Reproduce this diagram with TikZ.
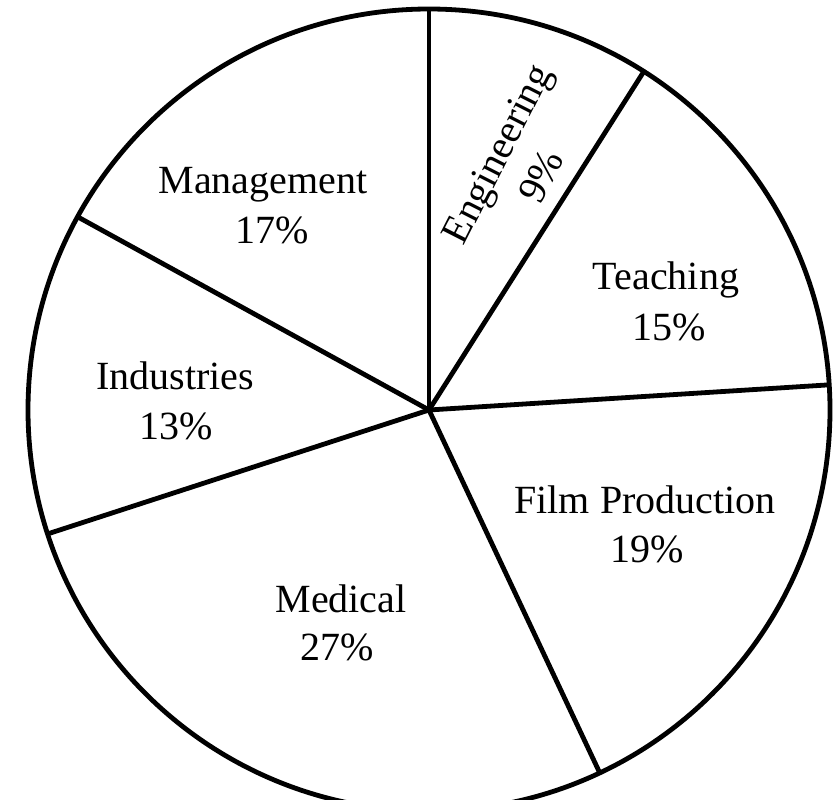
\documentclass[tikz,border=0pt]{standalone}
\usepackage{fontspec}
\setmainfont{Liberation Serif}
\begin{document}
\begin{tikzpicture}[x=1pt,y=-1pt,
  lbl/.style={font=\fontsize{40}{50}\selectfont, inner sep=0pt, anchor=base},
  rlbl/.style={font=\fontsize{40}{50}\selectfont, inner sep=0pt, anchor=center, rotate=63, align=center},
  spoke/.style={line width=4.8pt}]
\useasboundingbox (0,0) rectangle (833,800);
\fill[white] (0,0) rectangle (833,800);
\coordinate (c) at (429,410);
\draw[spoke] (c) circle[radius=401pt];
\foreach \a/\n in {90/p1,57.6/p2,3.6/p3,-64.8/p4,-162/p5,151.2/p6}
  \path (c) ++(\a:401pt) coordinate (\n);
\foreach \n in {p1,p2,p3,p4,p5,p6}
  \draw[spoke] (c) -- (\n);
% labels
\node[rlbl] (eng) at (519,165) {Engineering\\9\%};
\node[lbl] (teach) at (666,289) {Teaching};
\node[lbl] (teachp) at (669,340) {15\%};
\node[lbl] (film) at (645,513) {Film Production};
\node[lbl] (filmp) at (647,562) {19\%};
\node[lbl] (med) at (341,612) {Medical};
\node[lbl] (medp) at (337,660) {27\%};
\node[lbl] (ind) at (175,389) {Industries};
\node[lbl] (indp) at (176,439) {13\%};
\node[lbl] (man) at (263,193) {Management};
\node[lbl] (manp) at (272,243) {17\%};
\end{tikzpicture}
\end{document}
